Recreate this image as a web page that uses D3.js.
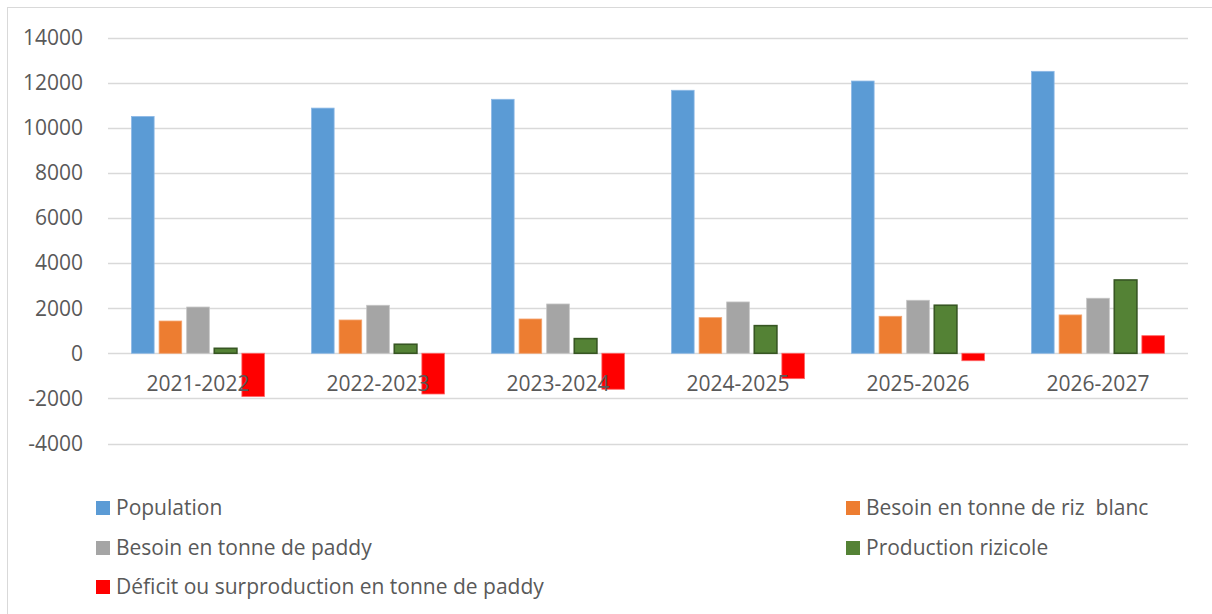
<!DOCTYPE html>
<html>
<head>
<meta charset="utf-8">
<script src="https://cdn.jsdelivr.net/npm/d3@7"></script>
<style>
  body { margin: 0; background: #fff; }
  text { font-family: "Open Sans", sans-serif; fill: #595959; }
</style>
</head>
<body>
<script>
var categories = ["2021-2022","2022-2023","2023-2024","2024-2025","2025-2026","2026-2027"];
var seriesNames = ["Population","Besoin en tonne de riz  blanc","Besoin en tonne de paddy","Production rizicole","Déficit ou surproduction en tonne de paddy"];
var population = [10500, 10870, 11260, 11660, 12070, 12500];
var besoinRiz = [1430, 1476, 1520, 1580, 1640, 1700];
var besoinPaddy = [2050, 2128, 2185, 2275, 2350, 2440];
var production = [220, 400, 650, 1225, 2130, 3250];
var deficit = [-1920, -1805, -1595, -1125, -330, 780];
var yTicks = [-4000,-2000,0,2000,4000,6000,8000,10000,12000,14000];

var colors = ["#5B9BD5","#ED7D31","#A5A5A5","#548235","#FF0000"];
var strokes = ["#8DB9E6","#F4A470","#C4C4C4","#375623","#FF6666"];
var allSeries = [population, besoinRiz, besoinPaddy, production, deficit];

var w = 1212, h = 614;
var svg = d3.select("body").append("svg").attr("width", w).attr("height", h);

// outer frame
svg.append("rect").attr("x", 7.5).attr("y", 7.5).attr("width", w + 20).attr("height", h + 20)
   .attr("fill", "none").attr("stroke", "#D9D9D9");

var left = 108, right = 1188;
var y = d3.scaleLinear().domain([-4000, 14000]).range([443.5, 37.5]);
var x0 = d3.scaleBand().domain(categories).range([left, right]);
var x1 = d3.scaleBand().domain(d3.range(5)).range([23.5, 156.5]).paddingInner(0.18);

// gridlines
svg.append("g").selectAll("line").data(yTicks).enter().append("line")
   .attr("x1", left).attr("x2", right)
   .attr("y1", function(d){ return Math.round(y(d)) + 0.5; })
   .attr("y2", function(d){ return Math.round(y(d)) + 0.5; })
   .attr("stroke", "#D9D9D9").attr("stroke-width", 1.3);

// y labels
svg.append("g").selectAll("text").data(yTicks).enter().append("text")
   .attr("x", 83).attr("y", function(d){ return y(d); })
   .attr("dy", "0.35em").attr("text-anchor", "end")
   .style("font-size", "21px")
   .text(function(d){ return d; });

// bars
var groups = svg.append("g").selectAll("g").data(categories).enter().append("g")
   .attr("transform", function(d){ return "translate(" + x0(d) + ",0)"; });

groups.selectAll("rect")
   .data(function(d, i){ return allSeries.map(function(s, k){ return {k: k, v: s[i]}; }); })
   .enter().append("rect")
   .attr("x", function(d){ return x1(d.k); })
   .attr("width", x1.bandwidth())
   .attr("y", function(d){ return y(Math.max(0, d.v)); })
   .attr("height", function(d){ return Math.abs(y(d.v) - y(0)); })
   .attr("fill", function(d){ return colors[d.k]; })
   .attr("stroke", function(d){ return strokes[d.k]; })
   .attr("stroke-width", function(d){ return d.k == 3 ? 1.6 : 0.8; });

// category labels
svg.append("g").selectAll("text").data(categories).enter().append("text")
   .attr("x", function(d){ return x0(d) + x0.bandwidth() / 2; })
   .attr("y", 384).attr("dy", "0.35em")
   .attr("text-anchor", "middle")
   .style("font-size", "21px")
   .text(function(d){ return d; });

// legend
var legendPos = [[96, 508], [846, 508], [96, 548], [846, 548], [96, 587]];
var legend = svg.append("g").selectAll("g").data(seriesNames).enter().append("g")
   .attr("transform", function(d, i){ return "translate(" + legendPos[i][0] + "," + legendPos[i][1] + ")"; });
legend.append("rect").attr("x", 0).attr("y", -7).attr("width", 14).attr("height", 14)
   .attr("fill", function(d, i){ return colors[i]; });
legend.append("text").attr("x", 20).attr("y", 0).attr("dy", "0.35em")
   .style("font-size", "21px").style("white-space", "pre")
   .text(function(d){ return d; });
</script>
</body>
</html>
